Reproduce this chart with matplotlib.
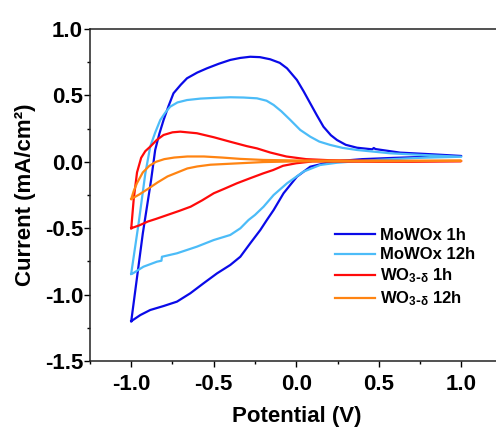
import matplotlib
matplotlib.use("Agg")
import matplotlib.pyplot as plt
from matplotlib.ticker import AutoMinorLocator, MultipleLocator

plt.rcParams['font.family'] = ['Liberation Sans', 'DejaVu Sans']
plt.rcParams['font.weight'] = 'bold'
plt.rcParams['axes.unicode_minus'] = False
plt.rcParams['mathtext.default'] = 'regular'

# CV loops: forward scan -1.0 -> 1.0 V, then reverse back to -1.0 V
mo1_x = [-1.0, -0.93, -0.88, -0.855, -0.83, -0.804, -0.774, -0.744, -0.70, -0.662, -0.60, -0.541,
         -0.47, -0.40, -0.34, -0.279, -0.22, -0.158, -0.10, -0.056, 0.004, 0.045, 0.085, 0.125,
         0.165, 0.21, 0.247, 0.30, 0.368, 0.46, 0.47, 0.48, 0.63, 0.83, 1.0,
         0.8, 0.6, 0.4, 0.28, 0.186, 0.085, 0.004, -0.077, -0.137, -0.178, -0.218, -0.279, -0.339,
         -0.40, -0.48, -0.562, -0.642, -0.723, -0.804, -0.885, -0.945, -1.0]
mo1_y = [-1.20, -0.54, -0.14, 0.089, 0.21, 0.315, 0.42, 0.516, 0.58, 0.629, 0.672, 0.704,
         0.738, 0.767, 0.782, 0.791, 0.788, 0.772, 0.745, 0.704, 0.616, 0.53, 0.44, 0.35,
         0.264, 0.20, 0.164, 0.128, 0.106, 0.094, 0.104, 0.096, 0.069, 0.056, 0.044,
         0.038, 0.03, 0.02, 0.008, -0.007, -0.037, -0.112, -0.237, -0.363, -0.438, -0.514, -0.614, -0.715,
         -0.777, -0.84, -0.915, -0.99, -1.053, -1.086, -1.116, -1.154, -1.20]

mo12_x = [-1.0, -0.955, -0.915, -0.885, -0.855, -0.824, -0.794, -0.764, -0.72, -0.662, -0.58, -0.50,
          -0.40, -0.32, -0.238, -0.18, -0.137, -0.09, -0.036, 0.024, 0.085, 0.14, 0.206, 0.28,
          0.368, 0.57, 0.77, 1.0,
          0.75, 0.5, 0.35, 0.247, 0.145, 0.044, -0.056, -0.137, -0.198, -0.25, -0.289, -0.339,
          -0.40, -0.50, -0.602, -0.723, -0.814, -0.817, -0.844, -0.926, -0.99, -1.0]
mo12_y = [-0.84, -0.46, -0.09, 0.114, 0.22, 0.315, 0.37, 0.415, 0.447, 0.465, 0.476, 0.481,
          0.486, 0.484, 0.478, 0.46, 0.428, 0.38, 0.315, 0.24, 0.189, 0.152, 0.127, 0.105,
          0.089, 0.064, 0.051, 0.038,
          0.03, 0.015, 0.003, -0.007, -0.024, -0.074, -0.162, -0.25, -0.338, -0.40, -0.438, -0.501,
          -0.551, -0.589, -0.639, -0.689, -0.715, -0.745, -0.752, -0.79, -0.84, -0.845]

wo1_x = [-1.0, -0.985, -0.965, -0.94, -0.915, -0.885, -0.845, -0.804, -0.75, -0.703, -0.602, -0.50,
         -0.40, -0.30, -0.238, -0.158, -0.06, 0.06, 0.2, 0.4, 0.7, 1.0,
         0.5, 0.1, 0.0, -0.08, -0.14, -0.2, -0.28, -0.36, -0.43, -0.5, -0.57, -0.64, -0.71,
         -0.78, -0.85, -0.90, -0.95, -1.0]
wo1_y = [-0.50, -0.28, -0.08, 0.03, 0.08, 0.114, 0.165, 0.202, 0.222, 0.227, 0.215, 0.185,
         0.151, 0.118, 0.101, 0.07, 0.04, 0.02, 0.012, 0.008, 0.005, 0.005,
         0.0, 0.003, -0.011, -0.03, -0.062, -0.087, -0.124, -0.162, -0.2, -0.237, -0.29, -0.338, -0.37,
         -0.40, -0.43, -0.45, -0.478, -0.50]

wo12_x = [-1.0, -0.985, -0.965, -0.93, -0.89, -0.85, -0.80, -0.74, -0.66, -0.56, -0.45, -0.34,
          -0.2, 0.0, 0.5, 1.0,
          0.5, 0.0, -0.2, -0.44, -0.52, -0.6, -0.66, -0.72, -0.78, -0.84, -0.90, -0.95, -1.0]
wo12_y = [-0.28, -0.22, -0.16, -0.08, -0.03, 0.0, 0.02, 0.032, 0.04, 0.04, 0.032, 0.022,
          0.014, 0.01, 0.008, 0.008,
          0.004, 0.003, -0.002, -0.017, -0.022, -0.035, -0.05, -0.08, -0.11, -0.155, -0.205, -0.245, -0.28]

labels = ['MoWOx 1h', 'MoWOx 12h', r'WO$_{3\text{-}\delta}$ 1h', r'WO$_{3\text{-}\delta}$ 12h']
colors = ['#0a0ae8', '#4cbcf8', '#ff0a0a', '#ff8412']

fig = plt.figure(figsize=(4.96, 4.32), dpi=100)
ax = fig.add_axes([90 / 496, 71 / 432, 412.5 / 496, 332 / 432])

for xs, ys, lab, c in zip([mo1_x, mo12_x, wo1_x, wo12_x], [mo1_y, mo12_y, wo1_y, wo12_y], labels, colors):
    ax.plot(xs, ys, color=c, lw=1.6, label=lab)

ax.set_xlim(-1.25, 1.25)
ax.set_ylim(-1.5, 1.0)
ax.xaxis.set_major_locator(MultipleLocator(0.5))
ax.yaxis.set_major_locator(MultipleLocator(0.5))
ax.xaxis.set_minor_locator(AutoMinorLocator(2))
ax.yaxis.set_minor_locator(AutoMinorLocator(2))
ax.set_xticks([-1.0, -0.5, 0.0, 0.5, 1.0])
ax.set_xticklabels(['-1.0', '-0.5', '0.0', '0.5', '1.0'])
ax.tick_params(which='major', direction='out', length=4, width=1, labelsize=16)
ax.tick_params(which='minor', direction='out', length=2.5, width=1)
ax.tick_params(axis='y', which='major', pad=1)
ax.tick_params(axis='x', which='major', pad=5)
for s in ax.spines.values():
    s.set_linewidth(1.1)
    s.set_color('#222222')

ax.set_xlabel('Potential (V)', fontsize=16, fontweight='bold', labelpad=8)
ax.set_ylabel('Current (mA/cm²)', fontsize=16, fontweight='bold', labelpad=6)

ax.legend(loc='upper left', bbox_to_anchor=(0.594, 0.40), frameon=False,
          handlelength=2.4, handletextpad=0.3, labelspacing=0.25, borderpad=0, borderaxespad=0,
          prop={'weight': 'bold', 'size': 12})

fig.savefig('out.png', dpi=100)
